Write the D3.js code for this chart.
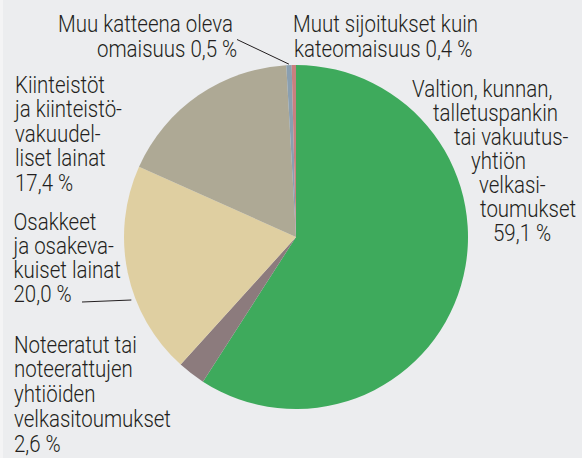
<!DOCTYPE html>
<html>
<head>
<meta charset="utf-8">
<script src="https://cdn.jsdelivr.net/npm/d3@7"></script>
<style>
  html, body { margin: 0; padding: 0; background: #ecedef; }
  svg { display: block; }
  text { font-family: "Roboto", "Liberation Sans", sans-serif; font-weight: 300; fill: #231f20; }
</style>
</head>
<body>
<div id="chart"></div>
<script>

// data, in drawing order (clockwise from 12 o'clock)
var categories = [
  "Valtion, kunnan, talletuspankin tai vakuutusyhtiön velkasitoumukset",
  "Noteeratut tai noteerattujen yhtiöiden velkasitoumukset",
  "Osakkeet ja osakevakuiset lainat",
  "Kiinteistöt ja kiinteistövakuudelliset lainat",
  "Muu katteena oleva omaisuus",
  "Muut sijoitukset kuin kateomaisuus"
];
var shares = [59.1, 2.6, 20.0, 17.4, 0.5, 0.4];

// label text as printed, {v} = the share
var labelLines = [
  ["Valtion, kunnan,", "talletuspankin", "tai vakuutus-", "yhtiön", "velkasi-", "toumukset", "{v}"],
  ["Noteeratut tai", "noteerattujen", "yhtiöiden", "velkasitoumukset", "{v}"],
  ["Osakkeet", "ja osakeva-", "kuiset lainat", "{v}"],
  ["Kiinteistöt", "ja kiinteistö-", "vakuudel-", "liset lainat", "{v}"],
  ["Muu katteena oleva", "omaisuus {v}"],
  ["Muut sijoitukset kuin", "kateomaisuus {v}"]
];

var colors = ["#3eaa5c", "#8c7b7d", "#dfcfa1", "#aea995", "#8a9fb0", "#c9807f"];

// where each label block sits
var labelLayout = [
  {xs: [412, 433, 454, 471, 479, 480, 493], y: 97, lh: 24},
  {xs: [14], y: 352.7, lh: 24.75},
  {xs: [13.5], y: 230, lh: 24},
  {xs: [15], y: 92.7, lh: 24.5},
  {xs: [58, 97], y: 32, lh: 24.7},
  {xs: [293, 294], y: 32, lh: 24.7}
];

var width = 582, height = 458,
    cx = 296, cy = 237, radius = 172,
    fontSize = 23, squeeze = 0.89;

var fmt = function(v) { return d3.format(".1f")(v).replace(".", ",") + " %"; };

var svg = d3.select("#chart")
  .append("svg")
    .attr("width", width)
    .attr("height", height);

svg.append("rect").attr("width", 3).attr("height", height).style("fill", "#f4f4f5");
svg.append("rect").attr("x", 3).attr("width", width - 3).attr("height", height).style("fill", "#ecedef");

var pie = d3.pie().sort(null).value(function(d) { return d; });
var arc = d3.arc().innerRadius(0).outerRadius(radius);
var arcs = pie(shares);

var g = svg.append("g").attr("transform", "translate(" + cx + "," + cy + ")");

g.selectAll("path")
  .data(arcs)
  .enter()
  .append("path")
    .attr("d", arc)
    .style("fill", function(d, i) { return colors[i]; });

// labels
labelLines.forEach(function(lines, i) {
  var lay = labelLayout[i];
  lines.forEach(function(line, j) {
    var x = lay.xs[Math.min(j, lay.xs.length - 1)];
    var y = lay.y + j * lay.lh;
    svg.append("text")
      .attr("transform", "translate(" + x + "," + y + ") scale(" + squeeze + ",1)")
      .style("font-size", fontSize + "px")
      .text(line.replace("{v}", fmt(shares[i])));
  });
});

// leader for the 0,5 % slice: to the outer edge at the slice's mid angle
var a4 = (arcs[4].startAngle + arcs[4].endAngle) / 2;
svg.append("line")
  .attr("x1", 237).attr("y1", 39.5)
  .attr("x2", cx + (radius + 1) * Math.sin(a4))
  .attr("y2", cy - (radius + 1) * Math.cos(a4))
  .style("stroke", "#231f20").style("stroke-width", 1);

// leader for the 20,0 % slice: short rule ending just off the circle
var ly = 301;
svg.append("line")
  .attr("x1", 82).attr("y1", ly + 1)
  .attr("x2", cx - Math.sqrt(radius * radius - (ly - cy) * (ly - cy)) - 5)
  .attr("y2", ly - 1)
  .style("stroke", "#231f20").style("stroke-width", 1);

</script>
</body>
</html>
